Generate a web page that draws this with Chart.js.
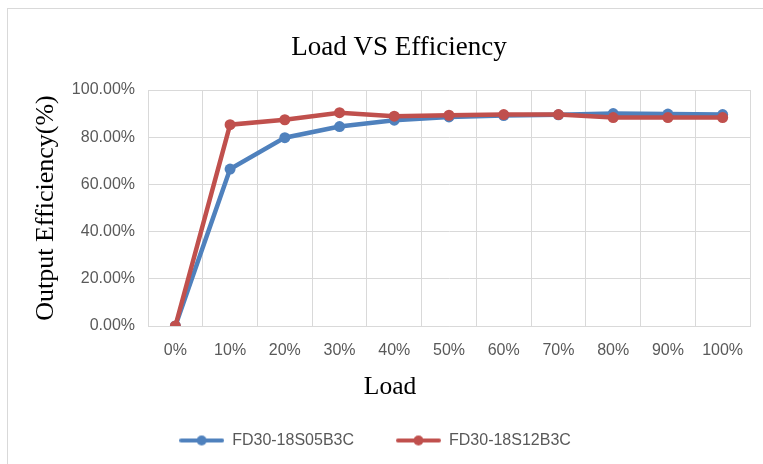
<!DOCTYPE html>
<html>
<head>
<meta charset="utf-8">
<script src="https://cdn.jsdelivr.net/npm/chart.js@4.4.1/dist/chart.umd.min.js"></script>
<style>
  body { margin: 0; background: #fff; overflow: hidden; }
  #frame { position: absolute; left: 7px; top: 8px; width: 800px; height: 500px;
           border-left: 1px solid #d9d9d9; border-top: 1px solid #d9d9d9; }
  #wrap { position: absolute; left: 0; top: 0; width: 763px; height: 464px; }
</style>
</head>
<body>
<div id="frame"></div>
<div id="wrap"><canvas id="chart"></canvas></div>
<script>
var loads = ['0%', '10%', '20%', '30%', '40%', '50%', '60%', '70%', '80%', '90%', '100%'];
var eff05 = [0, 66.5, 79.8, 84.5, 87.2, 88.6, 89.2, 89.5, 90.0, 89.8, 89.6];
var eff12 = [0, 85.3, 87.4, 90.4, 88.9, 89.3, 89.6, 89.6, 88.3, 88.3, 88.3];
var yTicks = [0, 20, 40, 60, 80, 100];

var blue = '#4f81bd';
var red = '#c0504d';
var serif = '"Liberation Serif", "Times New Roman", serif';
var sans = '"Liberation Sans", Arial, sans-serif';

// legend marker: line with a dot in the middle, like Excel
function legendMark(color) {
  var c = document.createElement('canvas');
  c.width = 45; c.height = 12;
  var ctx = c.getContext('2d');
  ctx.strokeStyle = color;
  ctx.lineWidth = 4;
  ctx.lineCap = 'round';
  ctx.beginPath();
  ctx.moveTo(2, 6); ctx.lineTo(43, 6);
  ctx.stroke();
  ctx.fillStyle = color;
  ctx.beginPath();
  ctx.arc(22.5, 6, 5, 0, Math.PI * 2);
  ctx.fill();
  return c;
}

// chart title and x title sit off-centre in the original (Excel layout)
var titlesPlugin = {
  id: 'titles',
  afterDraw: function (chart) {
    var ctx = chart.ctx;
    ctx.save();
    ctx.fillStyle = '#000';
    ctx.textAlign = 'center';
    ctx.textBaseline = 'middle';
    ctx.font = '27px ' + serif;
    ctx.fillText('Load VS Efficiency', 399, 48);
    ctx.font = '25.5px ' + serif;
    ctx.fillText('Load', 390, 387);
    ctx.restore();
  }
};

new Chart(document.getElementById('chart'), {
  type: 'line',
  data: {
    labels: loads,
    datasets: [{
      label: 'FD30-18S05B3C',
      data: eff05,
      borderColor: blue,
      backgroundColor: blue,
      borderWidth: 4.5,
      pointRadius: 5.5,
      pointBorderWidth: 0,
      order: 1
    }, {
      label: 'FD30-18S12B3C',
      data: eff12,
      borderColor: red,
      backgroundColor: red,
      borderWidth: 4.5,
      pointRadius: 5.5,
      pointBorderWidth: 0,
      order: 0
    }]
  },
  plugins: [titlesPlugin],
  options: {
    responsive: true,
    maintainAspectRatio: false,
    animation: false,
    layout: { padding: { left: 0, right: 13, top: 90, bottom: 5.5 } },
    plugins: {
      tooltip: { enabled: false },
      title: { display: false },
      legend: {
        position: 'bottom',
        labels: {
          usePointStyle: true,
          pointStyleWidth: 45,
          color: '#595959',
          font: { family: sans, size: 16 },
          padding: 42,
          generateLabels: function (chart) {
            return chart.data.datasets.map(function (ds, i) {
              return {
                text: ds.label,
                pointStyle: legendMark(ds.borderColor),
                fillStyle: ds.borderColor,
                strokeStyle: ds.borderColor,
                lineWidth: 0,
                fontColor: '#595959',
                hidden: false,
                datasetIndex: i
              };
            });
          }
        }
      }
    },
    scales: {
      x: {
        offset: true,
        grid: { offset: true, color: '#d9d9d9', drawTicks: false },
        border: { color: '#d9d9d9' },
        ticks: { color: '#595959', font: { family: sans, size: 16 }, padding: 15, maxRotation: 0 },
        afterFit: function (scale) { scale.height = 64.5; }
      },
      y: {
        min: 0,
        max: 100,
        afterBuildTicks: function (scale) {
          scale.ticks = yTicks.map(function (v) { return { value: v }; });
        },
        grid: { color: '#d9d9d9', drawTicks: false },
        border: { color: '#d9d9d9' },
        ticks: {
          color: '#595959',
          font: { family: sans, size: 16 },
          padding: 13,
          callback: function (v) { return v.toFixed(2) + '%'; }
        },
        title: {
          display: true,
          text: 'Output Efficiency(%)',
          color: '#000',
          font: { family: serif, size: 26 },
          padding: { top: 31, bottom: 0 }
        },
        afterFit: function (scale) { scale.width = 148; }
      }
    }
  }
});
</script>
</body>
</html>
